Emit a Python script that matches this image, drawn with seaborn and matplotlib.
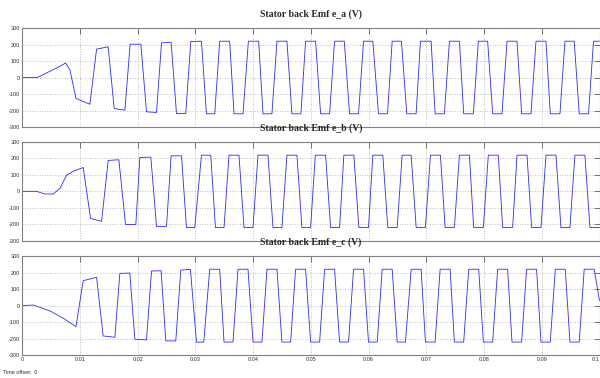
import numpy as np
import pandas as pd
import matplotlib
matplotlib.use("Agg")
import matplotlib.pyplot as plt
import seaborn as sns

# ---------------- data (vertices) ----------------
titles = ["Stator back Emf e_a (V)", "Stator back Emf e_b (V)", "Stator back Emf e_c (V)"]

ea_t = [0, 0.0026, 0.0048, 0.0062, 0.0075, 0.00826, 0.0093, 0.01171,
        0.01287, 0.01488, 0.01592, 0.01777,
        0.01869, 0.02054, 0.02152, 0.02325,
        0.02412, 0.02578, 0.02671, 0.02832,
        0.02919, 0.03104, 0.0319, 0.03334,
        0.0342, 0.03593, 0.03668, 0.03824,
        0.03917, 0.04095, 0.0417, 0.04325,
        0.04412, 0.04585, 0.04671, 0.04827,
        0.04908, 0.05081, 0.05168, 0.05324,
        0.0541, 0.05578, 0.0567, 0.05825,
        0.05912, 0.06073, 0.06171, 0.06327,
        0.06408, 0.06569, 0.06661, 0.06823,
        0.06898, 0.07083, 0.07152, 0.07313,
        0.074, 0.07573, 0.07647, 0.07815,
        0.07901, 0.08062, 0.08149, 0.08311,
        0.08398, 0.08571, 0.08651, 0.08813,
        0.089, 0.09073, 0.09147, 0.09315,
        0.09401, 0.09562, 0.09649, 0.0981,
        0.09896, 0.1]
ea_v = [0, 0, 38, 62, 88, 45, -127, -162,
        172, 186, -188, -198,
        202, 202, -208, -212,
        210, 214, -218, -218,
        218, 220, -220, -220,
        220, 220, -220, -220,
        220, 220, -220, -220,
        220, 220, -220, -220,
        220, 220, -220, -220,
        220, 220, -220, -220,
        220, 220, -220, -220,
        220, 220, -220, -220,
        220, 220, -220, -220,
        220, 220, -220, -220,
        220, 220, -220, -220,
        220, 220, -220, -220,
        220, 220, -220, -220,
        220, 220, -220, -220,
        220, 220]

eb_t = [0, 0.0025, 0.0039, 0.00536, 0.00652, 0.00768, 0.00894, 0.01055,
        0.01183, 0.01374, 0.01488, 0.01673,
        0.01789, 0.01967, 0.02036, 0.02227,
        0.02325, 0.02498, 0.02578, 0.02758,
        0.02844, 0.02988, 0.03104, 0.03265,
        0.03346, 0.03495, 0.03581, 0.03754,
        0.03841, 0.03997, 0.04083, 0.04256,
        0.04343, 0.04498, 0.04585, 0.04758,
        0.04844, 0.04995, 0.05076, 0.05254,
        0.05341, 0.05497, 0.05571, 0.05744,
        0.05831, 0.05998, 0.06073, 0.06246,
        0.06332, 0.06495, 0.06581, 0.06737,
        0.06824, 0.06984, 0.07071, 0.07244,
        0.07325, 0.07486, 0.07573, 0.07746,
        0.0782, 0.07988, 0.08074, 0.08247,
        0.08322, 0.08495, 0.08571, 0.08744,
        0.08824, 0.08986, 0.09073, 0.09246,
        0.09332, 0.09488, 0.09574, 0.09747,
        0.09834, 0.1]
eb_v = [0, 0, -16, -16, 18, 98, 124, 145,
        -165, -182, 188, 192,
        -202, -202, 206, 208,
        -214, -214, 216, 216,
        -220, -220, 220, 220,
        -220, -220, 220, 220,
        -220, -220, 220, 220,
        -220, -220, 220, 220,
        -220, -220, 220, 220,
        -220, -220, 220, 220,
        -220, -220, 220, 220,
        -220, -220, 220, 220,
        -220, -220, 220, 220,
        -220, -220, 220, 220,
        -220, -220, 220, 220,
        -220, -220, 220, 220,
        -220, -220, 220, 220,
        -220, -220, 220, 220,
        -220, -220]

ec_t = [0, 0.0019, 0.0048, 0.0071, 0.0093,
        0.01055, 0.01287, 0.01401, 0.01604,
        0.0169, 0.01863, 0.0195, 0.02152,
        0.02239, 0.02405, 0.02486, 0.02659,
        0.02746, 0.02913, 0.03017, 0.03144,
        0.03247, 0.0342, 0.03495, 0.03651,
        0.03737, 0.0391, 0.03997, 0.04152,
        0.04239, 0.04412, 0.04498, 0.04649,
        0.04735, 0.04908, 0.04995, 0.05151,
        0.05237, 0.0541, 0.05497, 0.05652,
        0.05739, 0.05912, 0.05998, 0.06149,
        0.06235, 0.06408, 0.06495, 0.06638,
        0.06737, 0.0691, 0.06984, 0.07152,
        0.07239, 0.07412, 0.07486, 0.07647,
        0.07734, 0.07907, 0.07988, 0.08149,
        0.08235, 0.08408, 0.08484, 0.08651,
        0.08737, 0.0891, 0.08986, 0.09147,
        0.09234, 0.09407, 0.09488, 0.09649,
        0.09735, 0.09908, 0.1]
ec_v = [0, 4, -32, -76, -127,
        151, 171, -183, -191,
        195, 197, -203, -207,
        209, 211, -213, -213,
        215, 219, -221, -220,
        220, 220, -220, -220,
        220, 220, -220, -220,
        220, 220, -220, -220,
        220, 220, -220, -220,
        220, 220, -220, -220,
        220, 220, -220, -220,
        220, 220, -220, -220,
        220, 220, -220, -220,
        220, 220, -220, -220,
        220, 220, -220, -220,
        220, 220, -220, -220,
        220, 220, -220, -220,
        220, 220, -220, -220,
        220, 220, 30]

x_ticks = [0, 0.01, 0.02, 0.03, 0.04, 0.05, 0.06, 0.07, 0.08, 0.09, 0.1]
x_tick_labels = ["0", "0.01", "0.02", "0.03", "0.04", "0.05", "0.06", "0.07", "0.08", "0.09", "0.1"]
y_ticks = [-300, -200, -100, 0, 100, 200, 300]
y_tick_labels = ["-300", "-200", "-100", "0", "100", "200", "300"]
offset_text = "Time offset:  0"

series = [(ea_t, ea_v), (eb_t, eb_v), (ec_t, ec_v)]
for t, v in series:
    assert len(t) == len(v)

# ---------------- drawing ----------------
sns.set_style("white")
plt.rcParams['font.family'] = ['Liberation Sans', 'DejaVu Sans']

fig = plt.figure(figsize=(6, 3.78), dpi=100)
fig.patch.set_facecolor("white")

W, H = 600.0, 378.0
left_px, right_px = 22.3, 599.5
panels_px = [(28, 127), (142, 240.7), (256, 355.3)]

for i, ((top_px, bot_px), (t, v), title) in enumerate(zip(panels_px, series, titles)):
    ax = fig.add_axes([left_px / W, 1 - bot_px / H, (right_px - left_px) / W, (bot_px - top_px) / H])
    df = pd.DataFrame({"t": t, "v": v})
    sns.lineplot(data=df, x="t", y="v", ax=ax, color="#2a2aff", lw=0.6,
                 estimator=None, sort=False)
    ax.set_xlim(0, 0.1)
    ax.set_ylim(-300, 300)
    ax.set_xticks(x_ticks)
    ax.set_yticks(y_ticks)
    ax.set_yticklabels(y_tick_labels)
    if i == 2:
        ax.set_xticklabels(x_tick_labels)
        ax.get_xticklabels()[-1].set_horizontalalignment("right")
    else:
        ax.set_xticklabels([])
    ax.set_xlabel("")
    ax.set_ylabel("")
    ax.set_axisbelow(True)
    ax.grid(True, color="#a8a8a8", linestyle=(0, (1, 2)), lw=0.6)
    ax.tick_params(direction="in", top=True, right=True, length=4, width=0.7,
                   color="#707070", labelsize=4, pad=1.5, labelcolor="#303030")
    for sp in ax.spines.values():
        sp.set_color("#808080")
        sp.set_linewidth(0.8)
    ax.text(0.5, 1 + 14.0 / (bot_px - top_px), title, transform=ax.transAxes,
            ha="center", va="center", fontfamily="Liberation Serif",
            fontweight="bold", fontsize=7)

fig.text(3 / W, 1 - 372 / H, offset_text, fontsize=4, va="center", ha="left", color="#303030")

fig.savefig("out.png", dpi=100, facecolor="white")
